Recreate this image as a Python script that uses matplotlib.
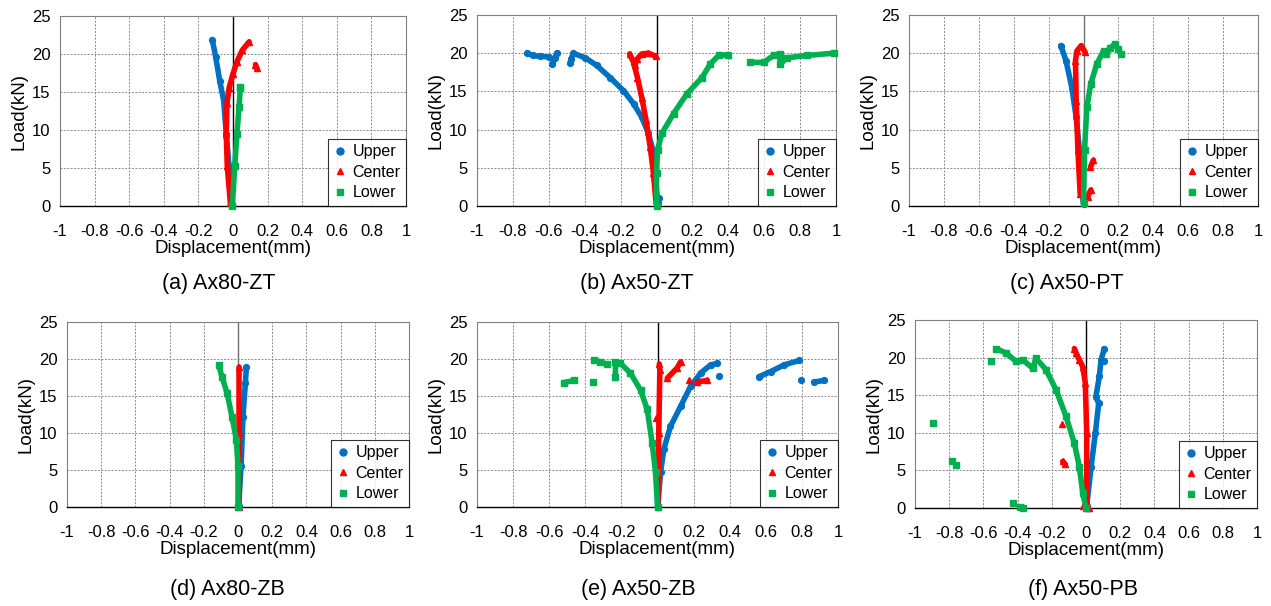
import numpy as np
import matplotlib
matplotlib.use("Agg")
import matplotlib.pyplot as plt
from matplotlib.lines import Line2D

plt.rcParams['font.family'] = ['Liberation Sans', 'DejaVu Sans']
plt.rcParams['axes.unicode_minus'] = False

nan = np.nan

# (a) Ax80-ZT
a_upper_x = [-0.004, -0.023, -0.039, -0.054, -0.077, -0.10, -0.12]
a_upper_y = [0.3, 5.2, 9.5, 13.9, 16.5, 19.6, 21.9]
a_center_x = [-0.015, -0.033, -0.039, -0.035, -0.023, 0.0, 0.023, 0.054, 0.093, nan, 0.13, 0.138]
a_center_y = [0.35, 5.2, 9.5, 13.5, 15.5, 17.4, 19.0, 20.5, 21.6, nan, 18.6, 18.1]
a_lower_x = [-0.004, 0.01, 0.023, 0.035, 0.042, 0.04]
a_lower_y = [0.0, 5.2, 9.5, 13.0, 15.5, 15.6]

# (b) Ax50-ZT
b_upper_x = [0.012, 0.006, -0.006, -0.02, -0.045, -0.082, -0.128, -0.184, -0.258, -0.333, -0.398, -0.463, -0.475, -0.48,
             nan, -0.555, -0.565, -0.58, nan, -0.60, -0.65, -0.69, -0.72]
b_upper_y = [1.0, 0.35, 3.8, 7.3, 9.5, 11.6, 13.4, 15.1, 16.8, 18.4, 19.4, 20.0, 19.3, 18.7,
             nan, 20.0, 19.4, 18.6, nan, 19.5, 19.6, 19.7, 20.0]
b_center_x = [-0.004, -0.017, -0.035, -0.058, -0.082, -0.106, -0.128, -0.15, nan, -0.12, -0.11, -0.082, -0.045, -0.005]
b_center_y = [0.8, 4.3, 7.7, 11.2, 14.2, 16.8, 18.8, 19.9, nan, 18.4, 19.2, 19.9, 20.0, 19.6]
b_lower_x = [0.0, 0.0, 0.006, 0.03, 0.095, 0.17, 0.253, 0.3, 0.346, 0.4,
             nan, 0.522, 0.597, 0.652, 0.686, 0.69, 0.727, 0.838, 0.987]
b_lower_y = [0.0, 4.3, 7.3, 9.5, 12.1, 14.7, 16.8, 18.6, 19.7, 19.8,
             nan, 18.8, 18.8, 19.7, 19.9, 18.6, 19.4, 19.7, 20.0]

# (c) Ax50-PT
c_upper_x = [0.0, -0.015, -0.023, -0.042, -0.067, -0.1, -0.13]
c_upper_y = [0.3, 2.5, 7.3, 11.6, 15.5, 19.0, 21.0]
c_center_x = [-0.019, -0.032, -0.042, -0.046, -0.038, -0.013, 0.01, nan, 0.04, 0.057, nan, 0.023, 0.042]
c_center_y = [1.6, 7.3, 13.8, 19.0, 20.3, 21.0, 20.1, nan, 5.1, 6.0, nan, 1.2, 2.1]
c_lower_x = [0.0, 0.006, 0.019, 0.042, 0.076, 0.115, 0.13, 0.153, 0.18, 0.2, 0.214]
c_lower_y = [0.35, 7.3, 12.9, 16.0, 18.6, 20.3, 19.9, 20.7, 21.2, 20.5, 19.9]

# (d) Ax80-ZB
d_upper_x = [0.004, 0.018, 0.029, 0.043, 0.049]
d_upper_y = [0.2, 5.5, 12.2, 16.7, 18.9]
d_center_x = [0.004, 0.006, 0.006]
d_center_y = [0.0, 10.0, 18.9]
d_lower_x = [0.0, 0.0, -0.01, -0.035, -0.064, -0.094, -0.113]
d_lower_y = [0.0, 5.5, 9.1, 12.2, 15.4, 17.6, 19.2]

# (e) Ax50-ZB
e_upper_x = [0.002, 0.017, 0.035, 0.072, 0.128, 0.183, 0.239, 0.294, 0.331, nan, 0.34,
             nan, 0.562, 0.627, 0.701, 0.785, nan, 0.794, nan, 0.868, 0.923]
e_upper_y = [0.2, 4.7, 7.8, 10.9, 13.6, 16.3, 18.1, 19.2, 19.4, nan, 17.7,
             nan, 17.6, 18.3, 19.2, 19.8, nan, 17.1, nan, 16.9, 17.1]
e_center_x = [0.002, 0.007, 0.013, 0.01, nan, -0.007, nan, 0.054, 0.109, 0.128, nan, 0.174, nan, 0.22, 0.276]
e_center_y = [0.0, 10.0, 18.5, 19.3, nan, 12.0, nan, 17.4, 18.8, 19.6, nan, 17.1, nan, 16.9, 17.1]
e_lower_x = [0.0, -0.011, -0.03, -0.057, -0.094, -0.15, -0.205, -0.233, -0.233,
             nan, -0.279, -0.316, -0.353, nan, -0.359, nan, -0.52, -0.464]
e_lower_y = [0.0, 4.7, 8.7, 13.2, 15.8, 18.1, 19.4, 19.6, 17.6,
             nan, 19.3, 19.6, 19.9, nan, 16.9, nan, 16.8, 17.1]

# (f) Ax50-PB
f_upper_x = [0.004, 0.03, 0.055, 0.074, 0.058, 0.078, 0.088, 0.107, nan, 0.107]
f_upper_y = [0.2, 5.5, 10.0, 13.9, 14.8, 17.5, 19.7, 21.2, nan, 19.6]
f_center_x = [0.004, 0.004, -0.004, -0.019, -0.039, -0.058, -0.068, nan, -0.14, nan, -0.136, -0.121,
              nan, -0.02, nan, 0.02]
f_center_y = [0.0, 10.0, 16.6, 18.8, 19.7, 20.6, 21.2, nan, 11.2, nan, 6.2, 5.8,
              nan, 0.2, nan, 0.0]
f_lower_x = [0.0, -0.019, -0.039, -0.068, -0.117, -0.175, -0.234, -0.292, -0.312, -0.37, -0.409, -0.467, -0.526,
             nan, -0.555, nan, -0.896, nan, -0.785, nan, -0.763, nan, -0.428, nan, -0.386, -0.37]
f_lower_y = [0.0, 2.0, 5.5, 8.6, 12.2, 15.7, 18.4, 19.9, 18.6, 19.7, 19.5, 20.6, 21.2,
             nan, 19.6, nan, 11.3, nan, 6.3, nan, 5.75, nan, 0.6, nan, 0.1, 0.0]

captions = ['(a) Ax80-ZT', '(b) Ax50-ZT', '(c) Ax50-PT', '(d) Ax80-ZB', '(e) Ax50-ZB', '(f) Ax50-PB']
series_names = ['Upper', 'Center', 'Lower']
colors = ['#0070C0', '#FF0000', '#00B050']
markers = ['o', '^', 's']

xticks = [-1, -0.8, -0.6, -0.4, -0.2, 0, 0.2, 0.4, 0.6, 0.8, 1]
xlabels = ['-1', '-0.8', '-0.6', '-0.4', '-0.2', '0', '0.2', '0.4', '0.6', '0.8', '1']
yticks = [0, 5, 10, 15, 20, 25]

panels = [
    [(a_upper_x, a_upper_y), (a_center_x, a_center_y), (a_lower_x, a_lower_y)],
    [(b_upper_x, b_upper_y), (b_center_x, b_center_y), (b_lower_x, b_lower_y)],
    [(c_upper_x, c_upper_y), (c_center_x, c_center_y), (c_lower_x, c_lower_y)],
    [(d_upper_x, d_upper_y), (d_center_x, d_center_y), (d_lower_x, d_lower_y)],
    [(e_upper_x, e_upper_y), (e_center_x, e_center_y), (e_lower_x, e_lower_y)],
    [(f_upper_x, f_upper_y), (f_center_x, f_center_y), (f_lower_x, f_lower_y)],
]

W, H = 1271, 606
# axes boxes in pixels: left, right, top, bottom
boxes = [(60, 406, 16, 206), (477, 836, 15, 206), (909, 1258, 15, 206),
         (67, 409, 322, 507), (477, 838, 322, 507), (915, 1257, 320, 508)]
cap_pos = [(219, 284), (637, 284), (1067, 284), (227, 589), (638, 589), (1083, 589)]
zero_line = ['black', 'black', '#707070', '#707070', 'black', 'black']

fig = plt.figure(figsize=(W / 100, H / 100), dpi=100)

for i, data in enumerate(panels):
    l, r, t, b = boxes[i]
    ax = fig.add_axes([l / W, 1 - b / H, (r - l) / W, (b - t) / H])
    ax.set_xlim(-1, 1)
    ax.set_ylim(0, 25)
    ax.set_xticks(xticks)
    ax.set_xticklabels(xlabels)
    ax.set_yticks(yticks)
    ax.tick_params(length=0, labelsize=12, pad=13)
    ax.tick_params(axis='y', pad=7)
    ax.grid(True, color='#8c8c8c', linestyle=(0, (2, 1.5)), linewidth=0.7)
    ax.set_axisbelow(True)
    for s in ['top', 'right', 'left']:
        ax.spines[s].set_color('#808080')
        ax.spines[s].set_linewidth(0.8)
    ax.spines['bottom'].set_color('black')
    ax.spines['bottom'].set_linewidth(1.0)
    ax.axvline(0, color=zero_line[i], lw=1.0, zorder=1.5)

    for (x, y), c, m in zip(data, colors, markers):
        ax.plot(x, y, color=c, lw=4.0, marker=m, ms=4.2, solid_capstyle='round',
                solid_joinstyle='round', clip_on=False, zorder=3)

    ax.set_xlabel('Displacement(mm)', fontsize=13.5, labelpad=1)
    ax.set_ylabel('Load(kN)', fontsize=13.5, labelpad=3)

    handles = [Line2D([], [], ls='', marker=m, color=c, ms=5) for c, m in zip(colors, markers)]
    leg = ax.legend(handles, series_names, loc='lower right', fontsize=11.5, borderaxespad=0,
                    frameon=True, fancybox=False, handlelength=0.8, handletextpad=0.4,
                    labelspacing=0.35, borderpad=0.35)
    leg.get_frame().set_edgecolor('black')
    leg.get_frame().set_linewidth(0.8)
    leg.set_zorder(5)

    cx, cy = cap_pos[i]
    fig.text(cx / W, 1 - cy / H, captions[i], ha='center', va='center', fontsize=15.5)

fig.savefig('out.png', dpi=100)
